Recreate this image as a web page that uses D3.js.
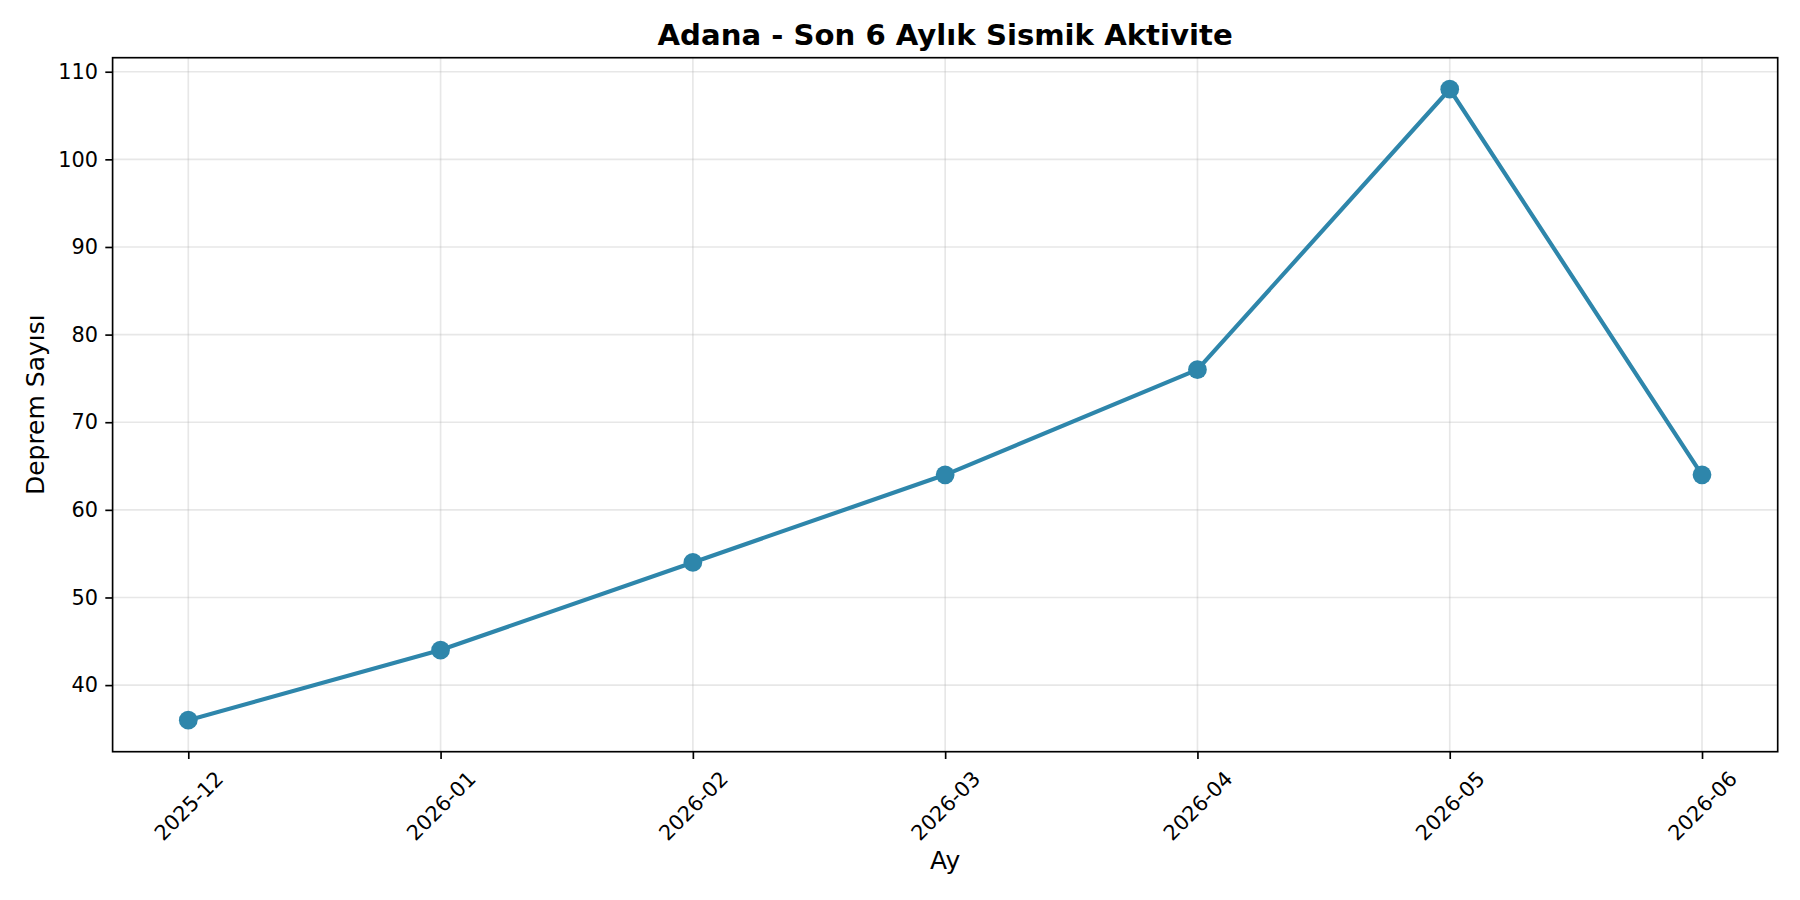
<!DOCTYPE html>
<html>
<head>
<meta charset="utf-8">
<script src="https://cdn.jsdelivr.net/npm/d3@7"></script>
<style>
  body { margin: 0; background: #fff; }
  svg text { font-family: "DejaVu Sans", sans-serif; fill: #000; }
</style>
</head>
<body>
<div id="chart"></div>
<script>
const months = ["2025-12", "2026-01", "2026-02", "2026-03", "2026-04", "2026-05", "2026-06"];
const counts = [36, 44, 54, 64, 76, 108, 64];
const yTicks = [40, 50, 60, 70, 80, 90, 100, 110];

const W = 1800, H = 900;
// plot area (pixels)
const plot = { left: 112.6, right: 1777.7, top: 57.7, bottom: 751.7 };
const pt = 150 / 72;

const svg = d3.select("#chart")
    .append("svg")
    .attr("width", W)
    .attr("height", H);

// Scales
const x = d3.scalePoint()
    .domain(months)
    .range([plot.left, plot.right])
    .padding(0.3);

const yMin = d3.min(counts), yMax = d3.max(counts);
const yPad = (yMax - yMin) * 0.05;
const y = d3.scaleLinear()
    .domain([yMin - yPad, yMax + yPad])
    .range([plot.bottom, plot.top]);

// Grid
const grid = svg.append("g")
    .attr("stroke", "#b0b0b0")
    .attr("stroke-opacity", 0.3)
    .attr("stroke-width", 0.8 * pt);

grid.selectAll("line.v")
    .data(months)
    .enter().append("line")
    .attr("class", "v")
    .attr("x1", d => x(d)).attr("x2", d => x(d))
    .attr("y1", plot.top).attr("y2", plot.bottom);

grid.selectAll("line.h")
    .data(yTicks)
    .enter().append("line")
    .attr("class", "h")
    .attr("x1", plot.left).attr("x2", plot.right)
    .attr("y1", d => y(d)).attr("y2", d => y(d));

// X axis
const xAxis = svg.append("g")
    .attr("transform", `translate(0,${plot.bottom})`)
    .call(d3.axisBottom(x).tickSize(3.5 * pt).tickPadding(0));
xAxis.select(".domain").remove();
xAxis.selectAll(".tick line").attr("stroke", "#000").attr("stroke-width", 0.8 * pt);
xAxis.selectAll(".tick text")
    .attr("x", 0).attr("y", 0).attr("dy", "0.35em")
    .attr("text-anchor", "middle")
    .attr("transform", `translate(0,${7 * pt + 39.5}) rotate(-45)`)
    .style("font-size", (10 * pt) + "px");

// Y axis
const yAxis = svg.append("g")
    .attr("transform", `translate(${plot.left},0)`)
    .call(d3.axisLeft(y).tickValues(yTicks).tickSize(3.5 * pt).tickPadding(3.5 * pt));
yAxis.select(".domain").remove();
yAxis.selectAll(".tick line").attr("stroke", "#000").attr("stroke-width", 0.8 * pt);
yAxis.selectAll(".tick text")
    .style("font-size", (10 * pt) + "px");

// Line
const line = d3.line()
    .x((d, i) => x(months[i]))
    .y(d => y(d));

svg.append("path")
    .datum(counts)
    .attr("d", line)
    .attr("fill", "none")
    .attr("stroke", "#2E86AB")
    .attr("stroke-width", 2 * pt)
    .attr("stroke-linejoin", "round")
    .attr("stroke-linecap", "square");

// Markers (size 8 + 1pt edge)
svg.selectAll("circle")
    .data(counts)
    .enter().append("circle")
    .attr("cx", (d, i) => x(months[i]))
    .attr("cy", d => y(d))
    .attr("r", 4.5 * pt)
    .attr("fill", "#2E86AB");

// Frame (spines)
svg.append("rect")
    .attr("x", plot.left).attr("y", plot.top)
    .attr("width", plot.right - plot.left).attr("height", plot.bottom - plot.top)
    .attr("fill", "none")
    .attr("stroke", "#000")
    .attr("stroke-width", 0.8 * pt);

// Title
svg.append("text")
    .attr("x", (plot.left + plot.right) / 2)
    .attr("y", 45)
    .attr("text-anchor", "middle")
    .style("font-size", (14 * pt) + "px")
    .style("font-weight", "bold")
    .text("Adana - Son 6 Aylık Sismik Aktivite");

// Axis labels
svg.append("text")
    .attr("x", (plot.left + plot.right) / 2)
    .attr("y", 869)
    .attr("text-anchor", "middle")
    .style("font-size", (12 * pt) + "px")
    .text("Ay");

svg.append("text")
    .attr("transform", `translate(44,${(plot.top + plot.bottom) / 2}) rotate(-90)`)
    .attr("text-anchor", "middle")
    .style("font-size", (12 * pt) + "px")
    .text("Deprem Sayısı");
</script>
</body>
</html>
